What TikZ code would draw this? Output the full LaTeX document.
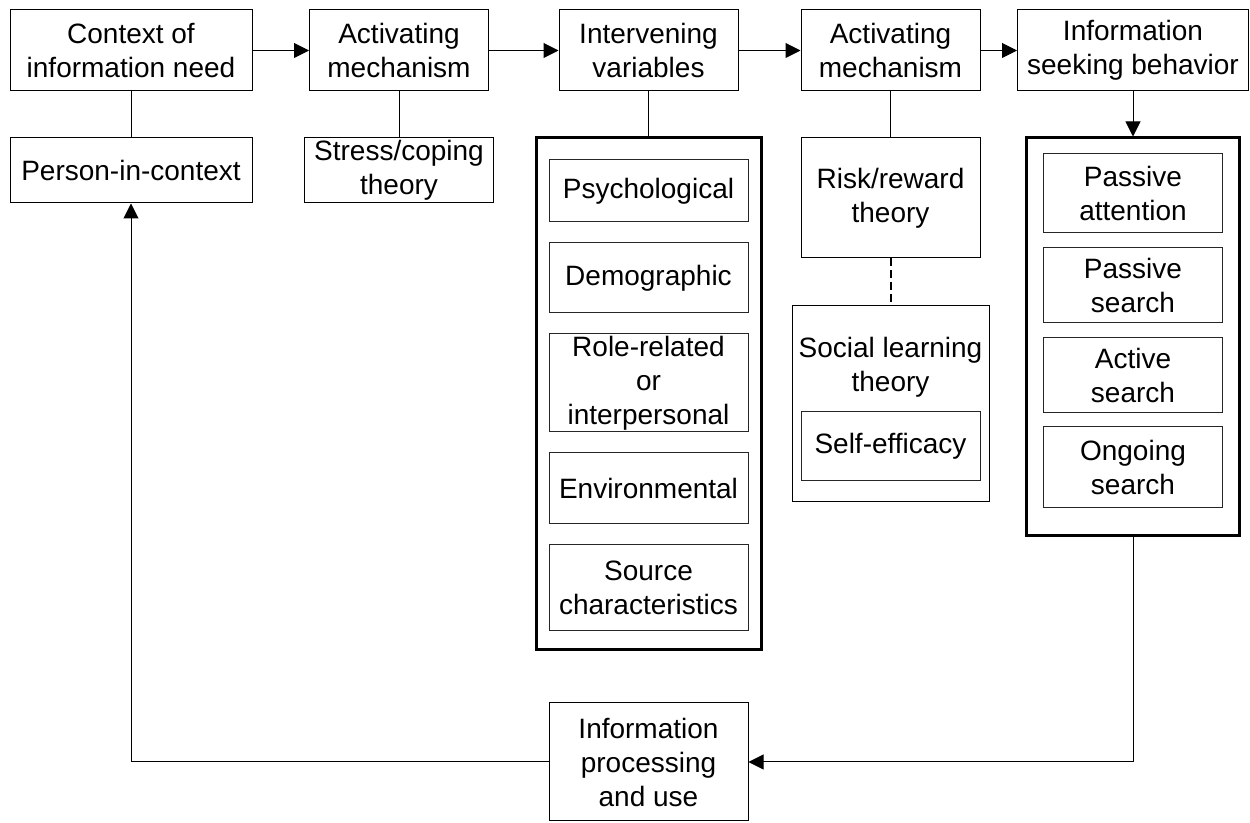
\documentclass[tikz,border=0pt]{standalone}
\usepackage{fontspec}
\setmainfont{Liberation Sans}
\usetikzlibrary{arrows.meta}

\begin{document}
\begin{tikzpicture}[x=0.5pt,y=-0.5pt,line width=0.5pt,
	txt/.style={align=center,inner sep=0pt,font=\fontsize{14}{17}\selectfont},
	box/.style={txt,draw,minimum width=#1},
	box/.default=89.5pt,
	inbox/.style={box=99.5pt,draw=black!85},
	group/.style={draw,line width=1.5pt,inner sep=0pt},
	>={Triangle[length=7.5pt,width=7.5pt]}]
	\useasboundingbox (0,0) rectangle (1250,823);
	% top row
	\path (131,50.5) node[box=121pt,minimum height=40.5pt] (ctx) {Context of\\information need}
	(399,50.5) node[box,minimum height=40.5pt] (act1) {Activating\\mechanism}
	(648.5,50.5) node[box,minimum height=40.5pt] (inter) {Intervening\\variables}
	(890.5,50.5) node[box,minimum height=40.5pt] (act2) {Activating\\mechanism}
	(1133,50.5) node[box=115.5pt,minimum height=40.5pt] (seek) {Information\\seeking behavior};
	% second row
	\path (131,170.5) node[box=121pt,minimum height=32.5pt] (person) {Person-in-context}
	(399,170.5) node[box=94.5pt,minimum height=32.5pt] (stress) {Stress/coping\\theory}
	(890.5,198) node[box,minimum height=60pt] (risk) {Risk/reward\\theory};
	% intervening variables
	\node[group,minimum width=112.5pt,minimum height=256pt] (intergrp) at (648.5,394) {};
	\path (648.5,191) node[inbox,minimum height=31pt] (psych) {Psychological}
	(648.5,278) node[inbox,minimum height=35pt] (demo) {Demographic}
	(648.5,383) node[inbox,minimum height=49pt] (role) {Role-related\\or\\interpersonal}
	(648.5,488.5) node[inbox,minimum height=35.5pt] (env) {Environmental}
	(648.5,588) node[inbox,minimum height=43pt] (source) {Source\\characteristics};
	% social learning
	\node[box=98.5pt,minimum height=98pt] (social) at (890.5,404) {};
	\node[txt] (sociallbl) at (890.5,367) {Social learning\\theory};
	\node[box,draw=black!85,minimum height=34.5pt] (selfeff) at (890.5,446.5) {Self-efficacy};
	% seeking behavior
	\node[group,minimum width=106.5pt,minimum height=199pt] (seekgrp) at (1133,337) {};
	\path (1133,193.5) node[box,draw=black!85,minimum height=39.5pt] (pattn) {Passive\\attention}
	(1133,285.5) node[box,draw=black!85,minimum height=37.5pt] (psearch) {Passive\\search}
	(1133,375.5) node[box,draw=black!85,minimum height=37.5pt] (asearch) {Active\\search}
	(1133,467.5) node[box,draw=black!85,minimum height=40.5pt] (osearch) {Ongoing\\search};
	\node[inbox,draw=black,minimum height=59pt] (proc) at (648.5,762) {Information\\processing\\and use};
	% connectors
	\draw[->] (ctx) -- (act1);
	\draw[->] (act1) -- (inter);
	\draw[->] (inter) -- (act2);
	\draw[->] (act2) -- (seek);
	\draw (ctx) -- (person) (act1) -- (stress) (inter) -- (intergrp) (act2) -- (risk);
	\draw[->] (seek) -- (seekgrp);
	\draw[line width=1pt,dash pattern=on 4pt off 2pt] (risk) -- (social);
	\draw[->] (seekgrp.south) |- (proc.east);
	\draw[->] (proc.west) -| (person.south);
\end{tikzpicture}
\end{document}
